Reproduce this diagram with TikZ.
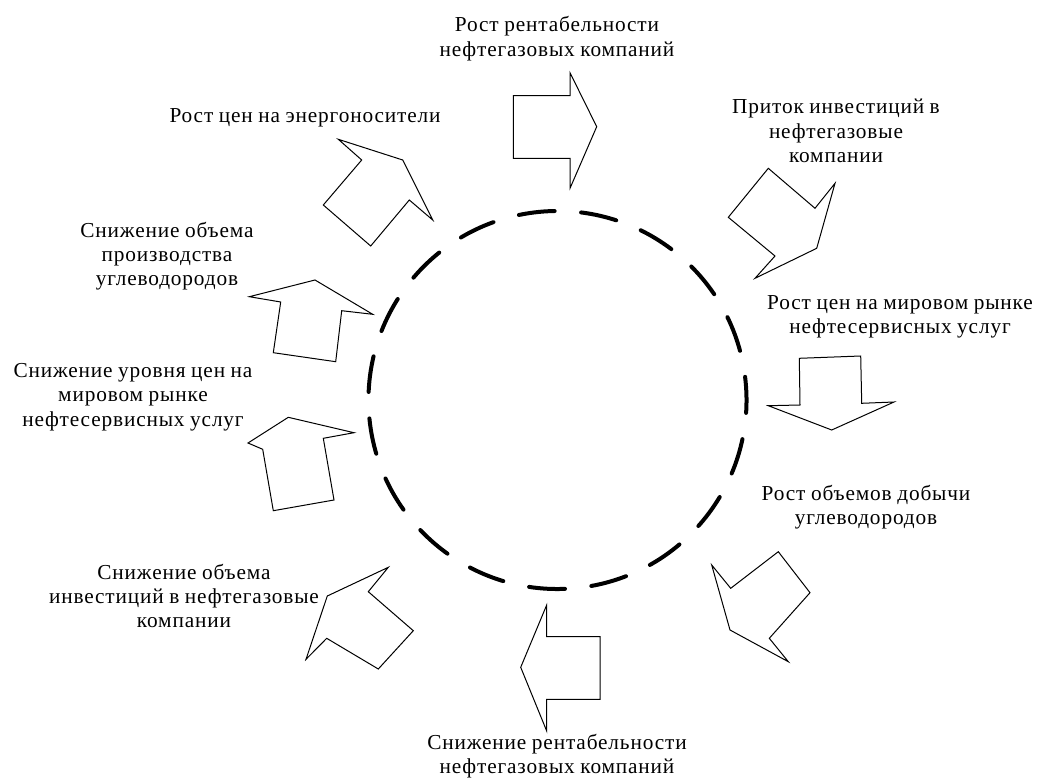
\documentclass[tikz,border=0pt]{standalone}
\usepackage{fontspec}
\setmainfont[LetterSpace=4,WordSpace=0.9]{Liberation Serif}
\usetikzlibrary{calc}
\begin{document}
\begin{tikzpicture}[x=1pt,y=-1pt,
  lbl/.style={align=center,inner sep=0pt,font=\fontsize{21.3}{24.3}\selectfont},
  blockarrow/.style={draw=black,line width=1pt,line join=miter},
  ring/.style={draw=black,line width=4pt,line cap=round,dash pattern=on 36pt off 26.5pt}]
\fill[white] (0,0) rectangle (1051,778);
\useasboundingbox (0,0) rectangle (1051,778);

% dashed ring in the middle
\coordinate (c) at (557.5,400);
\draw[ring] ($(c)+(-7:189)$) arc[start angle=-7,end angle=353,radius=189];

% labels around the ring
\node[lbl] (l1) at (557,38.5) {Рост рентабельности\\нефтегазовых компаний};
\node[lbl] (l2) at (305,117.5) {Рост цен на энергоносители};
\node[lbl] (l3) at (836,131) {Приток инвестиций в\\нефтегазовые\\компании};
\node[lbl] (l4) at (167,256) {Снижение объема\\производства\\углеводородов};
\node[lbl] (l5) at (900,317) {Рост цен на мировом рынке\\нефтесервисных услуг};
\node[lbl] (l6) at (133,397) {Снижение уровня цен на\\мировом рынке\\нефтесервисных услуг};
\node[lbl] (l7) at (866,507) {Рост объемов добычи\\углеводородов};
\node[lbl] (l8) at (184,596) {Снижение объема\\инвестиций в нефтегазовые\\компании};
\node[lbl] (l9) at (557,756) {Снижение рентабельности\\нефтегазовых компаний};

% block arrows
\draw[blockarrow] (513.3,95.7) -- (570,95.7) -- (570,72.7) -- (596.7,126.7) -- (570,188.3) -- (570,158.3) -- (513.3,158.3) -- cycle;
\draw[blockarrow] (768.3,168.3) -- (815,208.3) -- (835,183.3) -- (816.7,248.3) -- (755,278.3) -- (775,256) -- (728.3,217.3) -- cycle;
\draw[blockarrow] (799.3,358.3) -- (860.7,356) -- (861.7,403.3) -- (894,402) -- (831.7,430) -- (768.3,405.7) -- (800,405) -- cycle;
\draw[blockarrow] (711.7,565) -- (730.7,588.3) -- (778.3,551.7) -- (810,592.7) -- (769.3,638.3) -- (788.3,661.7) -- (730,630) -- cycle;
\draw[blockarrow] (546.7,605) -- (546.7,636.7) -- (600,636.7) -- (600,699.3) -- (546.7,699.3) -- (546.7,731) -- (520.7,667.3) -- cycle;
\draw[blockarrow] (388.3,567.3) -- (368.3,591.7) -- (413.3,630.7) -- (378.3,669) -- (326.7,638.3) -- (306,659.3) -- (327.3,596) -- cycle;
\draw[blockarrow] (288.3,417.3) -- (354,432.7) -- (323.3,438.3) -- (334,500) -- (273.3,510.7) -- (262.7,449.3) -- (248,443) -- cycle;
\draw[blockarrow] (315,280) -- (372.7,314.3) -- (341.7,310.7) -- (335.7,361.7) -- (273.3,352.7) -- (280.7,302) -- (249.3,296.7) -- cycle;
\draw[blockarrow] (338.3,139.3) -- (361.7,160) -- (323.3,205) -- (370.7,246) -- (409.3,200) -- (432.7,220) -- (402.7,160) -- cycle;
\end{tikzpicture}
\end{document}
